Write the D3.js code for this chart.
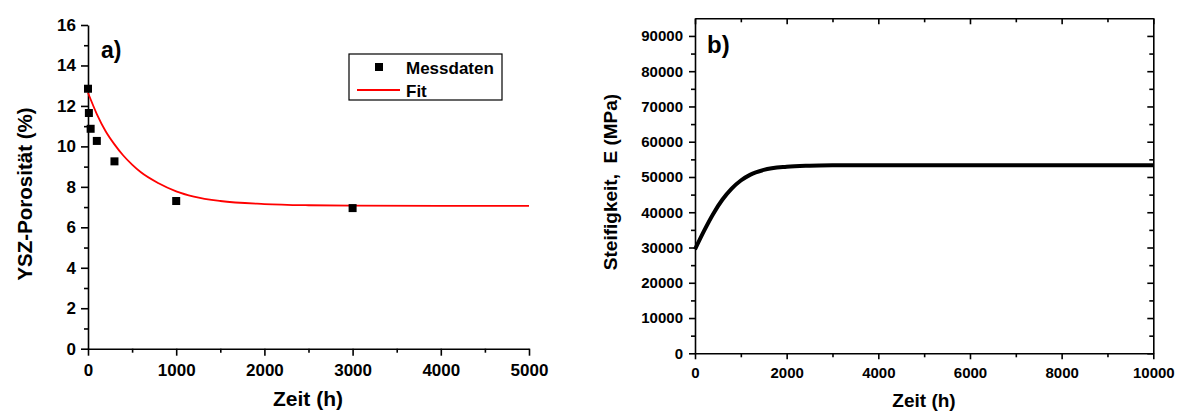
<!DOCTYPE html>
<html>
<head>
<meta charset="utf-8">
<script src="https://cdn.jsdelivr.net/npm/d3@7"></script>
<style>
  body { margin: 0; background: #fff; }
  svg text { font-family: "Liberation Sans", Arial, sans-serif; font-weight: bold; fill: #000; }
  .axis path, .axis line { stroke: #000; stroke-width: 1.6px; }
</style>
</head>
<body>
<script>
const WIDTH = 1183;
const HEIGHT = 412;

// a) porosity data
var MESS_T = [0, 10, 30, 100, 300, 1000, 3000];
var MESS_P = [12.85, 11.65, 10.87, 10.27, 9.26, 7.30, 6.95];
var FIT_T = [0, 100, 200, 300, 400, 500, 600, 800, 1000, 1200, 1500, 2000, 2500, 3000, 4000, 5000];
var FIT_P = [12.65, 11.6, 10.75, 10.1, 9.55, 9.1, 8.72, 8.18, 7.78, 7.52, 7.3, 7.15, 7.09, 7.07, 7.06, 7.06];
var A_XTICKS = [0, 1000, 2000, 3000, 4000, 5000];
var A_YTICKS = [0, 2, 4, 6, 8, 10, 12, 14, 16];

// b) stiffness data
var STIFF_T = [0, 200, 400, 600, 800, 1000, 1200, 1500, 2000, 2500, 3000, 4000, 6000, 8000, 10000];
var STIFF_E = [29500, 34800, 39600, 43600, 46700, 49000, 50600, 52000, 52900, 53200, 53300, 53350, 53350, 53350, 53350];
var B_XTICKS = [0, 2000, 4000, 6000, 8000, 10000];
var B_YTICKS = [0, 10000, 20000, 30000, 40000, 50000, 60000, 70000, 80000, 90000];

var fmt = d3.format("d");

var svg = d3.select("body").append("svg")
  .attr("width", WIDTH)
  .attr("height", HEIGHT);

// ---------- chart a ----------
var ax = d3.scaleLinear().domain([0, 5000]).range([88, 529]);
var ay = d3.scaleLinear().domain([0, 16]).range([348.7, 25]);

var ga = svg.append("g");

// minor ticks
ga.append("g").attr("class", "axis")
  .attr("transform", "translate(0," + ay(0) + ")")
  .call(d3.axisBottom(ax).tickValues(d3.range(500, 5000, 1000)).tickSize(4).tickFormat(""))
  .call(g => g.select(".domain").remove());
ga.append("g").attr("class", "axis")
  .attr("transform", "translate(" + ax(0) + ",0)")
  .call(d3.axisLeft(ay).tickValues(d3.range(1, 16, 2)).tickSize(4).tickFormat(""))
  .call(g => g.select(".domain").remove());

// major axes
ga.append("g").attr("class", "axis")
  .attr("transform", "translate(0," + ay(0) + ")")
  .call(d3.axisBottom(ax).tickValues(A_XTICKS).tickFormat(fmt).tickSize(7).tickSizeOuter(0).tickPadding(5))
  .call(g => g.selectAll("text").attr("font-size", "17px").attr("dy", "0.9em"));
ga.append("g").attr("class", "axis")
  .attr("transform", "translate(" + ax(0) + ",0)")
  .call(d3.axisLeft(ay).tickValues(A_YTICKS).tickFormat(fmt).tickSize(7).tickSizeOuter(0).tickPadding(5))
  .call(g => g.selectAll("text").attr("font-size", "17px"));

// fit line
ga.append("path")
  .datum(FIT_T.map((t, i) => [t, FIT_P[i]]))
  .attr("fill", "none")
  .attr("stroke", "#ff0000")
  .attr("stroke-width", 1.8)
  .attr("d", d3.line().x(d => ax(d[0])).y(d => ay(d[1])).curve(d3.curveMonotoneX));

// data squares
ga.selectAll("rect.mess")
  .data(MESS_T.map((t, i) => [t, MESS_P[i]]))
  .enter()
  .append("rect")
  .attr("class", "mess")
  .attr("x", d => ax(d[0]) - 4)
  .attr("y", d => ay(d[1]) - 4)
  .attr("width", 8)
  .attr("height", 8)
  .attr("fill", "#000");

// legend
ga.append("rect").attr("x", 349).attr("y", 54).attr("width", 153).attr("height", 46)
  .attr("fill", "#fff").attr("stroke", "#000").attr("stroke-width", 1.2);
ga.append("rect").attr("x", 375).attr("y", 63).attr("width", 8).attr("height", 8).attr("fill", "#000");
ga.append("text").attr("x", 406).attr("y", 74).attr("font-size", "17px").text("Messdaten");
ga.append("line").attr("x1", 357).attr("x2", 400).attr("y1", 90).attr("y2", 90)
  .attr("stroke", "#ff0000").attr("stroke-width", 1.8);
ga.append("text").attr("x", 406).attr("y", 97).attr("font-size", "17px").text("Fit");

// labels
ga.append("text").attr("x", 101).attr("y", 58).attr("font-size", "23px").text("a)");
ga.append("text").attr("x", 308).attr("y", 406).attr("text-anchor", "middle")
  .attr("font-size", "21px").text("Zeit (h)");
ga.append("text")
  .attr("transform", "translate(32,194) rotate(-90)")
  .attr("text-anchor", "middle")
  .attr("font-size", "20.5px")
  .text("YSZ-Porosität (%)");

// ---------- chart b ----------
var bx = d3.scaleLinear().domain([0, 10000]).range([695, 1153.3]);
var by = d3.scaleLinear().domain([0, 95000]).range([353.3, 18.3]);

var gb = svg.append("g");

// minor ticks (bottom/left outward, top/right inward)
gb.append("g").attr("class", "axis")
  .attr("transform", "translate(0," + by(0) + ")")
  .call(d3.axisBottom(bx).tickValues(d3.range(1000, 10000, 2000)).tickSize(4).tickFormat(""))
  .call(g => g.select(".domain").remove());
gb.append("g").attr("class", "axis")
  .attr("transform", "translate(0," + by(95000) + ")")
  .call(d3.axisBottom(bx).tickValues(d3.range(1000, 10000, 2000)).tickSize(4).tickFormat(""))
  .call(g => g.select(".domain").remove());
gb.append("g").attr("class", "axis")
  .attr("transform", "translate(" + bx(0) + ",0)")
  .call(d3.axisLeft(by).tickValues(d3.range(5000, 95000, 10000)).tickSize(4).tickFormat(""))
  .call(g => g.select(".domain").remove());
gb.append("g").attr("class", "axis")
  .attr("transform", "translate(" + bx(10000) + ",0)")
  .call(d3.axisLeft(by).tickValues(d3.range(5000, 95000, 10000)).tickSize(4).tickFormat(""))
  .call(g => g.select(".domain").remove());

// major axes
gb.append("g").attr("class", "axis")
  .attr("transform", "translate(0," + by(0) + ")")
  .call(d3.axisBottom(bx).tickValues(B_XTICKS).tickFormat(fmt).tickSize(6).tickSizeOuter(0).tickPadding(5))
  .call(g => g.selectAll("text").attr("font-size", "15px").attr("dy", "0.9em"));
gb.append("g").attr("class", "axis")
  .attr("transform", "translate(0," + by(95000) + ")")
  .call(d3.axisBottom(bx).tickValues(B_XTICKS).tickSize(6).tickSizeOuter(0).tickFormat(""));
gb.append("g").attr("class", "axis")
  .attr("transform", "translate(" + bx(0) + ",0)")
  .call(d3.axisLeft(by).tickValues(B_YTICKS).tickFormat(fmt).tickSize(6).tickSizeOuter(0).tickPadding(6))
  .call(g => g.selectAll("text").attr("font-size", "15px"));
gb.append("g").attr("class", "axis")
  .attr("transform", "translate(" + bx(10000) + ",0)")
  .call(d3.axisLeft(by).tickValues(B_YTICKS).tickSize(6).tickSizeOuter(0).tickFormat(""));

// stiffness curve
gb.append("path")
  .datum(STIFF_T.map((t, i) => [t, STIFF_E[i]]))
  .attr("fill", "none")
  .attr("stroke", "#000")
  .attr("stroke-width", 4)
  .attr("d", d3.line().x(d => bx(d[0])).y(d => by(d[1])).curve(d3.curveMonotoneX));

// labels
gb.append("text").attr("x", 707).attr("y", 52.5).attr("font-size", "24px").text("b)");
gb.append("text").attr("x", 924).attr("y", 406.5).attr("text-anchor", "middle")
  .attr("font-size", "19px").text("Zeit (h)");
gb.append("text")
  .attr("transform", "translate(617,182) rotate(-90)")
  .attr("text-anchor", "middle")
  .attr("font-size", "19px")
  .attr("xml:space", "preserve")
  .style("white-space", "pre")
  .text("Steifigkeit,  E (MPa)");
</script>
</body>
</html>
